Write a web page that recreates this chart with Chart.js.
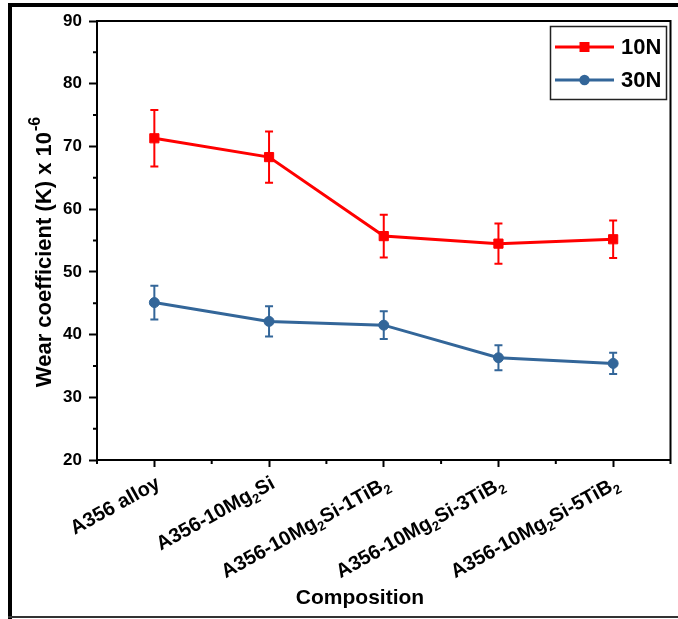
<!DOCTYPE html>
<html><head><meta charset="utf-8">
<script src="https://cdn.jsdelivr.net/npm/chart.js@4/dist/chart.umd.min.js"></script>
<style>html,body{margin:0;padding:0;background:#fff;overflow:hidden}canvas{display:block}</style>
</head><body>
<canvas id="c" width="678" height="619" style="width:678px;height:619px"></canvas>
<script>
// ---- data ----
const categories = ['A356 alloy', 'A356-10Mg₂Si', 'A356-10Mg₂Si-1TiB₂', 'A356-10Mg₂Si-3TiB₂', 'A356-10Mg₂Si-5TiB₂'];
const seriesNames = ['10N', '30N'];
const wear10N = [71.3, 68.3, 55.7, 54.5, 55.2];
const err10N  = [4.5, 4.1, 3.4, 3.2, 3.0];
const wear30N = [45.1, 42.1, 41.5, 36.3, 35.4];
const err30N  = [2.7, 2.4, 2.2, 2.0, 1.7];
const yTickValues = [20, 30, 40, 50, 60, 70, 80, 90];
const yMinorValues = [25, 35, 45, 55, 65, 75, 85];
const yTitle = 'Wear coefficient (K) x 10';
const yTitleExp = '-6';
const xTitle = 'Composition';

const FONT = "'Liberation Sans', Arial, Helvetica, sans-serif";
const RED = '#ff0000';
const BLUE = '#336699';
const errors = [err10N, err30N];

function richParts(str) {
  const parts = []; let buf = '';
  for (const ch of str) {
    if (ch === '₂') { if (buf) parts.push({t: buf, sub: false}); parts.push({t: '2', sub: true}); buf = ''; }
    else buf += ch;
  }
  if (buf) parts.push({t: buf, sub: false});
  return parts;
}

const errorBars = {
  id: 'errorBars',
  beforeDatasetsDraw(chart) {
    const ctx = chart.ctx, xs = chart.scales.x, ys = chart.scales.y;
    chart.data.datasets.forEach((ds, i) => {
      const err = errors[i];
      ctx.save();
      ctx.strokeStyle = ds.borderColor; ctx.lineWidth = 2;
      ds.data.forEach((v, j) => {
        const x = xs.getPixelForValue(j);
        const yt = ys.getPixelForValue(v + err[j]);
        const yb = ys.getPixelForValue(v - err[j]);
        ctx.beginPath();
        ctx.moveTo(x, yt); ctx.lineTo(x, yb);
        ctx.moveTo(x - 4, yt); ctx.lineTo(x + 4, yt);
        ctx.moveTo(x - 4, yb); ctx.lineTo(x + 4, yb);
        ctx.stroke();
      });
      ctx.restore();
    });
  }
};

const decor = {
  id: 'decor',
  afterDraw(chart) {
    const ctx = chart.ctx, a = chart.chartArea, xs = chart.scales.x, ys = chart.scales.y;
    ctx.save();
    // plot frame (top & right)
    ctx.strokeStyle = '#000'; ctx.lineWidth = 2;
    ctx.beginPath();
    ctx.moveTo(a.left, a.top); ctx.lineTo(a.right, a.top); ctx.lineTo(a.right, a.bottom);
    ctx.stroke();
    // minor ticks
    ctx.beginPath();
    yMinorValues.forEach(v => { const y = ys.getPixelForValue(v); ctx.moveTo(a.left - 4, y); ctx.lineTo(a.left, y); });
    const step = xs.getPixelForValue(1) - xs.getPixelForValue(0);
    for (let j = 0; j <= categories.length; j++) {
      const x = xs.getPixelForValue(j) - step / 2;
      ctx.moveTo(x, a.bottom); ctx.lineTo(x, a.bottom + 4);
    }
    ctx.stroke();
    // x tick labels (rotated, with subscripts)
    ctx.fillStyle = '#000';
    ctx.textAlign = 'left'; ctx.textBaseline = 'alphabetic';
    const ang = 29 * Math.PI / 180;
    const mainF = 'bold 20px ' + FONT, subF = 'bold 13px ' + FONT;
    categories.forEach((lab, j) => {
      const parts = richParts(lab);
      let W = 0;
      parts.forEach(p => { ctx.font = p.sub ? subF : mainF; p.w = ctx.measureText(p.t).width; W += p.w; });
      ctx.save();
      ctx.translate(xs.getPixelForValue(j) + 7, a.bottom + 27);
      ctx.rotate(-ang);
      let cx = -W;
      parts.forEach(p => { ctx.font = p.sub ? subF : mainF; ctx.fillText(p.t, cx, p.sub ? 5 : 0); cx += p.w; });
      ctx.restore();
    });
    // x title
    ctx.font = 'bold 21px ' + FONT; ctx.textAlign = 'center';
    ctx.fillText(xTitle, 360, 604);
    // y title
    ctx.save();
    ctx.translate(51, 252); ctx.rotate(-Math.PI / 2);
    ctx.textAlign = 'left';
    ctx.font = 'bold 22px ' + FONT; const w1 = ctx.measureText(yTitle).width;
    ctx.font = 'bold 16px ' + FONT; const w2 = ctx.measureText(yTitleExp).width;
    const sx = -(w1 + w2 + 1) / 2;
    ctx.font = 'bold 22px ' + FONT; ctx.fillText(yTitle, sx, 0);
    ctx.font = 'bold 16px ' + FONT; ctx.fillText(yTitleExp, sx + w1 + 1, -11);
    ctx.restore();
    // legend
    ctx.strokeStyle = '#222'; ctx.lineWidth = 1.5;
    ctx.strokeRect(550.5, 26.5, 116, 73);
    chart.data.datasets.forEach((ds, i) => {
      const y = 47 + i * 33;
      ctx.strokeStyle = ds.borderColor; ctx.lineWidth = 3;
      ctx.beginPath(); ctx.moveTo(555, y); ctx.lineTo(614, y); ctx.stroke();
      ctx.fillStyle = ds.borderColor;
      if (ds.pointStyle === 'rect') ctx.fillRect(579.5, y - 5, 10, 10);
      else { ctx.beginPath(); ctx.arc(584.5, y, 5.2, 0, Math.PI * 2); ctx.fill(); }
      ctx.fillStyle = '#000'; ctx.font = 'bold 22px ' + FONT; ctx.textAlign = 'left'; ctx.textBaseline = 'middle';
      ctx.fillText(ds.label, 621, y + 1);
    });
    // outer frame
    ctx.fillStyle = '#000';
    ctx.fillRect(8, 3, 670, 4);
    ctx.fillRect(8, 3, 4, 616);
    ctx.fillStyle = '#333';
    ctx.fillRect(8, 616, 670, 2);
    ctx.restore();
  }
};

Chart.defaults.font.family = FONT;
new Chart(document.getElementById('c'), {
  type: 'line',
  data: {
    labels: categories,
    datasets: [
      { label: seriesNames[0], data: wear10N, borderColor: RED, backgroundColor: RED, borderWidth: 3,
        pointStyle: 'rect', pointRadius: 6.5, pointBorderWidth: 1, pointBackgroundColor: RED, pointBorderColor: RED, tension: 0 },
      { label: seriesNames[1], data: wear30N, borderColor: BLUE, backgroundColor: BLUE, borderWidth: 3,
        pointStyle: 'circle', pointRadius: 5, pointBorderWidth: 1, pointBackgroundColor: BLUE, pointBorderColor: BLUE, tension: 0 }
    ]
  },
  options: {
    responsive: false, animation: false,
    layout: { padding: { left: 0, top: 21, right: 5, bottom: 0 } },
    plugins: { legend: { display: false }, tooltip: { enabled: false } },
    scales: {
      x: {
        type: 'category', offset: true,
        grid: { display: true, drawOnChartArea: false, drawTicks: true, tickLength: 7, tickWidth: 2, tickColor: '#000', offset: false },
        border: { display: true, color: '#000', width: 2 },
        ticks: { display: false },
        afterFit(s) { s.height = 159; }
      },
      y: {
        min: 20, max: 90,
        afterBuildTicks(s) { s.ticks = yTickValues.map(v => ({ value: v })); },
        grid: { display: true, drawOnChartArea: false, drawTicks: true, tickLength: 8, tickWidth: 2, tickColor: '#000' },
        border: { display: true, color: '#000', width: 2 },
        ticks: { color: '#000', font: { size: 17, weight: 'bold' }, padding: 7 },
        afterFit(s) { s.width = 97; }
      }
    }
  },
  plugins: [errorBars, decor]
});
</script>
</body></html>
